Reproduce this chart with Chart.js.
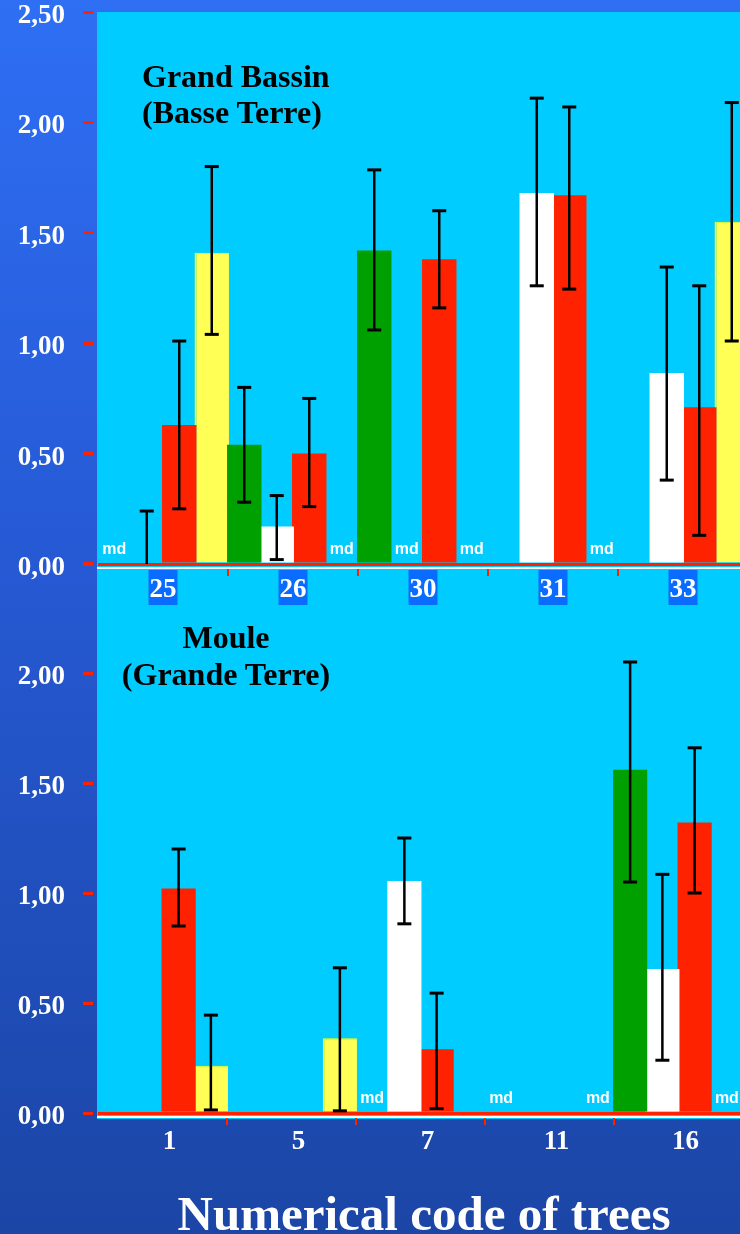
<!DOCTYPE html>
<html>
<head>
<meta charset="utf-8">
<script src="https://cdn.jsdelivr.net/npm/chart.js@4.4.1/dist/chart.umd.min.js"></script>
<style>
  html, body { margin: 0; padding: 0; width: 740px; height: 1234px; overflow: hidden; }
  body {
    position: relative;
    background: linear-gradient(to bottom, #2e6ff4 0%, #2659d4 45%, #1b46a6 100%);
    font-family: 'Liberation Serif', serif;
  }
  #plotbg { position: absolute; left: 97px; top: 12px; width: 700px; height: 1107px; background: #00ccff; }
  canvas { position: absolute; left: 0; }
  #chartTop { top: 0; }
  #chartBottom { top: 540px; }
  .site { position: absolute; font: bold 32px/36px 'Liberation Serif', serif; color: #000; white-space: nowrap; }
  #siteA { left: 142px; top: 58px; }
  #siteB { left: 76px; width: 300px; top: 619px; text-align: center; line-height: 37px; }
  #xtitle {
    position: absolute; left: 124px; width: 600px; top: 1189px; text-align: center;
    font: bold 49px/49px 'Liberation Serif', serif; color: #fff; white-space: nowrap;
  }
</style>
</head>
<body>
<div id="plotbg"></div>
<canvas id="chartTop" width="760" height="620"></canvas>
<canvas id="chartBottom" width="760" height="640"></canvas>
<div class="site" id="siteA">Grand Bassin<br>(Basse Terre)</div>
<div class="site" id="siteB">Moule<br>(Grande Terre)</div>
<div id="xtitle">Numerical code of trees</div>

<script>
// ---- Grand Bassin (Basse Terre) ----
const topCodes = ['25', '26', '30', '31', '33'];
const topGreen  = [null, 0.54, 1.42, null, null];
const topWhite  = [0, 0.17, null, 1.68, 0.865];
const topRed    = [0.63, 0.50, 1.38, 1.67, 0.71];
const topYellow = [1.41, null, null, null, 1.55];
// error bar limits [low, high]
const topGreenErr  = [null, [0.28, 0.80], [1.06, 1.785], null, null];
const topWhiteErr  = [[0, 0.24], [0.02, 0.31], null, [1.26, 2.11], [0.38, 1.345]];
const topRedErr    = [[0.25, 1.01], [0.26, 0.75], [1.16, 1.60], [1.245, 2.07], [0.13, 1.26]];
const topYellowErr = [[1.04, 1.80], null, null, null, [1.01, 2.09]];
// missing data ("md")
const topGreenMd  = [1, 0, 0, 0, 0];
const topWhiteMd  = [0, 0, 1, 0, 0];
const topRedMd    = [0, 0, 0, 0, 0];
const topYellowMd = [0, 1, 1, 1, 0];

// ---- Moule (Grande Terre) ----
const bottomCodes = ['1', '5', '7', '11', '16'];
const bottomGreen  = [null, null, null, null, 1.56];
const bottomWhite  = [null, null, 1.055, null, 0.655];
const bottomRed    = [1.02, null, 0.29, null, 1.32];
const bottomYellow = [0.215, 0.34, null, null, null];
const bottomGreenErr  = [null, null, null, null, [1.05, 2.05]];
const bottomWhiteErr  = [null, null, [0.86, 1.25], null, [0.24, 1.085]];
const bottomRedErr    = [[0.85, 1.20], null, [0.02, 0.545], null, [1.00, 1.66]];
const bottomYellowErr = [[0.014, 0.445], [0.01, 0.66], null, null, null];
const bottomGreenMd  = [0, 0, 1, 1, 0];
const bottomWhiteMd  = [0, 0, 0, 0, 0];
const bottomRedMd    = [0, 0, 0, 0, 0];
const bottomYellowMd = [0, 0, 0, 1, 1];

const yTicks = [0, 0.5, 1, 1.5, 2, 2.5];

const RED = '#ff2200';
const GREEN = '#00a000';
const WHITE = '#ffffff';
const YELLOW = '#ffff55';
const YELLOW_EDGE = '#ffff00';
const LABEL_BOX = '#0a6cff';
const SERIF = "'Liberation Serif', 'Times New Roman', serif";
const SANS = "'Liberation Sans', Arial, sans-serif";

function series(name, values, errs, md, fill, edge, edgeWidth) {
  return {
    label: name,
    data: values,
    backgroundColor: fill,
    borderColor: edge || fill,
    borderWidth: edgeWidth || 0,
    borderSkipped: false,
    errorLimits: errs,
    missing: md
  };
}

// error bars and "md" markers, placed through the chart scales
const errorBarPlugin = {
  id: 'errorBars',
  afterDatasetsDraw(chart) {
    const ctx = chart.ctx;
    const xs = chart.scales.x;
    const ys = chart.scales.y;
    const nSets = chart.data.datasets.length;
    const slot = xs.width / chart.data.labels.length / nSets;
    ctx.save();
    chart.data.datasets.forEach((ds, di) => {
      const meta = chart.getDatasetMeta(di);
      ds.errorLimits.forEach((lim, i) => {
        if (!lim) return;
        const el = meta.data[i];
        const bx = el ? el.x : xs.getPixelForValue(i) + (di - (nSets - 1) / 2) * slot;
        ctx.strokeStyle = '#000';
        ctx.lineCap = 'butt';
        ctx.lineWidth = 2.5;
        ctx.beginPath();
        ctx.moveTo(bx, ys.getPixelForValue(lim[0]));
        ctx.lineTo(bx, ys.getPixelForValue(lim[1]));
        ctx.stroke();
        ctx.lineWidth = 3;
        lim.forEach(v => {
          if (v <= 0) return;
          const py = ys.getPixelForValue(v);
          ctx.beginPath();
          ctx.moveTo(bx - 7, py);
          ctx.lineTo(bx + 7, py);
          ctx.stroke();
        });
      });
      ctx.fillStyle = '#fff';
      ctx.font = 'bold 16px ' + SANS;
      ctx.textAlign = 'center';
      ctx.textBaseline = 'alphabetic';
      ds.missing.forEach((m, i) => {
        if (!m) return;
        const cx = xs.getPixelForValue(i) + (di - (nSets - 1) / 2) * slot;
        ctx.fillText('md', cx, ys.getPixelForValue(0) - 10);
      });
    });
    ctx.restore();
  }
};

function yAxis(hideTopLabel) {
  return {
    type: 'linear',
    min: -0.018,
    max: 2.5,
    afterFit(s) { s.width = 98; s.paddingTop = 0; s.paddingBottom = 0; },
    afterBuildTicks(s) { s.ticks = yTicks.map(v => ({ value: v })); },
    ticks: {
      color: '#fff',
      font: { family: SERIF, size: 27, weight: 'bold' },
      padding: 18,
      labelOffset: 4,
      callback: v => (hideTopLabel && v === 2.5) ? '' : v.toFixed(2).replace('.', ',')
    },
    grid: {
      color: c => (c.tick && c.tick.value === 0) ? RED : 'rgba(0,0,0,0)',
      lineWidth: 3,
      tickLength: 15,
      tickColor: RED,
      tickWidth: 3,
      tickBorderDash: [10, 30]
    },
    border: { display: false }
  };
}

function xAxis(height, pad, offset, boxed) {
  return {
    type: 'category',
    afterFit(s) { s.height = height; s.paddingLeft = 0; s.paddingRight = 0; },
    ticks: {
      color: '#fff',
      font: { family: SERIF, size: 27, weight: 'bold', lineHeight: 1 },
      padding: pad,
      labelOffset: offset,
      maxRotation: 0,
      autoSkip: false,
      showLabelBackdrop: boxed,
      backdropColor: LABEL_BOX,
      backdropPadding: { top: 7, bottom: 1, left: 1, right: 1 }
    },
    grid: {
      offset: true,
      drawOnChartArea: false,
      color: c => c.index === 0 ? 'rgba(0,0,0,0)' : RED,
      lineWidth: 2,
      tickLength: 8
    },
    border: { color: '#fff', width: 2 }
  };
}

function makeChart(id, labels, sets, padding, xHeight, xPad, xOffset, boxed, hideTop) {
  return new Chart(document.getElementById(id), {
    type: 'bar',
    data: { labels, datasets: sets },
    options: {
      responsive: false,
      animation: false,
      devicePixelRatio: 1,
      categoryPercentage: 1,
      barPercentage: 1.06,
      layout: { padding },
      plugins: { legend: { display: false }, tooltip: { enabled: false } },
      scales: { x: xAxis(xHeight, xPad, xOffset, boxed), y: yAxis(hideTop) }
    },
    plugins: [errorBarPlugin]
  });
}

makeChart('chartTop', topCodes, [
  series('vert', topGreen, topGreenErr, topGreenMd, GREEN),
  series('blanc', topWhite, topWhiteErr, topWhiteMd, WHITE),
  series('rouge', topRed, topRedErr, topRedMd, RED),
  series('jaune', topYellow, topYellowErr, topYellowMd, YELLOW, YELLOW_EDGE, { left: 2, top: 1, right: 0, bottom: 0 })
], { top: 12, left: 0, right: 12, bottom: 0 }, 52, 1, 0, true, false);

makeChart('chartBottom', bottomCodes, [
  series('vert', bottomGreen, bottomGreenErr, bottomGreenMd, GREEN),
  series('blanc', bottomWhite, bottomWhiteErr, bottomWhiteMd, WHITE),
  series('rouge', bottomRed, bottomRedErr, bottomRedMd, RED),
  series('jaune', bottomYellow, bottomYellowErr, bottomYellowMd, YELLOW, YELLOW_EDGE, { left: 2, top: 1, right: 0, bottom: 0 })
], { top: 23, left: 0, right: 17, bottom: 0 }, 63, 4, 7, false, true);
</script>
</body>
</html>
